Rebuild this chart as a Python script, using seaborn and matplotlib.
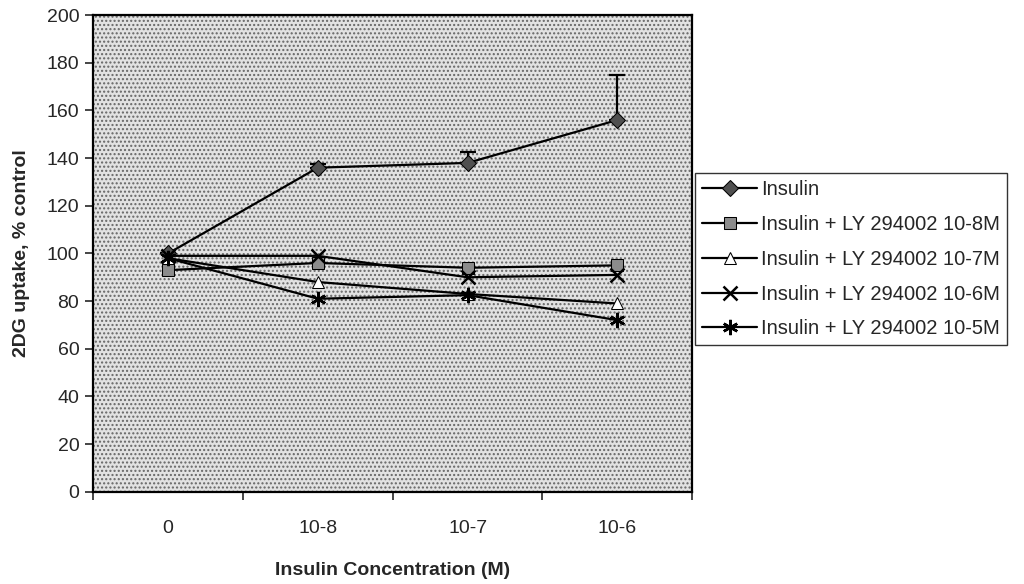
import numpy as np
import pandas as pd
import seaborn as sns
import matplotlib.pyplot as plt
from matplotlib.patches import Rectangle

# categories and series values
concentrations = ['0', '10-8', '10-7', '10-6']
insulin = [100, 136, 138, 156]
insulin_err = [0, 1.5, 4.5, 19]
ly_8 = [93, 96, 94, 95]
ly_7 = [98, 88, 83, 79]
ly_6 = [99, 99, 90, 91]
ly_5 = [98, 81, 82.5, 72]

series_names = ['Insulin',
                'Insulin + LY 294002 10-8M',
                'Insulin + LY 294002 10-7M',
                'Insulin + LY 294002 10-6M',
                'Insulin + LY 294002 10-5M']
series_values = [insulin, ly_8, ly_7, ly_6, ly_5]

# marker style per series (Excel-like)
styles = [
    dict(marker='D', markersize=8, markerfacecolor='#505050', markeredgecolor='black'),
    dict(marker='s', markersize=9, markerfacecolor='#8c8c8c', markeredgecolor='black'),
    dict(marker='^', markersize=9, markerfacecolor='white', markeredgecolor='black'),
    dict(marker='x', markersize=10, markeredgewidth=1.8, markeredgecolor='black'),
    dict(marker=(6, 2, 0), markersize=11, markeredgewidth=1.8, markeredgecolor='black'),
]

# long-format table for seaborn
rows = []
for name, vals in zip(series_names, series_values):
    for i, v in enumerate(vals):
        rows.append({'series': name, 'pos': i, 'value': v})
df = pd.DataFrame(rows)

sns.set_style('white')
plt.rcParams['font.family'] = ['Liberation Sans', 'DejaVu Sans']

fig = plt.figure(figsize=(10.24, 5.84), dpi=100)
ax = fig.add_axes([0.091, 0.158, 0.585, 0.816])

# dotted grey plot area
ax.add_patch(Rectangle((0, 0), 1, 1, transform=ax.transAxes, facecolor='#e2e2e2',
                       edgecolor='#666666', hatch='....', lw=0, zorder=0))

handles = []
for name, st in zip(series_names, styles):
    sub = df[df['series'] == name]
    sns.lineplot(data=sub, x='pos', y='value', color='black', linewidth=1.6,
                 ax=ax, label=name, zorder=3, **st)
    handles.append(ax.lines[-1])

# upper error bars for insulin
ax.errorbar(range(len(concentrations)), insulin,
            yerr=[np.zeros(len(insulin_err)), insulin_err],
            fmt='none', ecolor='black', elinewidth=1.6, capsize=6, capthick=1.6, zorder=2)

ax.set_xlim(-0.5, 3.5)
ax.set_ylim(0, 200)
ax.set_yticks(range(0, 201, 20))
ax.set_xticks(np.arange(-0.5, 3.6, 1))
ax.set_xticklabels([])
ax.set_xticks(range(len(concentrations)), minor=True)
ax.set_xticklabels(concentrations, minor=True)
ax.tick_params(axis='x', which='major', direction='out', length=6, width=1.2, bottom=True)
ax.tick_params(axis='x', which='minor', length=0, pad=20, labelsize=14)
ax.tick_params(axis='y', direction='out', length=6, width=1.2, left=True, labelsize=14, pad=4)

for sp in ax.spines.values():
    sp.set_visible(True)
    sp.set_color('black')
    sp.set_linewidth(1.6)

ax.set_xlabel('Insulin Concentration (M)', fontsize=14, fontweight='bold', labelpad=18)
ax.set_ylabel('2DG uptake, % control', fontsize=14, fontweight='bold', labelpad=12)

# legend outside the plot area, to the right
ax.legend_.remove()
leg = fig.legend(handles, series_names, loc='upper left', bbox_to_anchor=(0.679, 0.703),
                 fontsize=14.5, frameon=True, fancybox=False, edgecolor='black',
                 handlelength=2.7, handletextpad=0.2, labelspacing=0.78,
                 borderpad=0.35, borderaxespad=0)
leg.get_frame().set_linewidth(1.0)

fig.savefig('out.png', dpi=100, facecolor='white')
